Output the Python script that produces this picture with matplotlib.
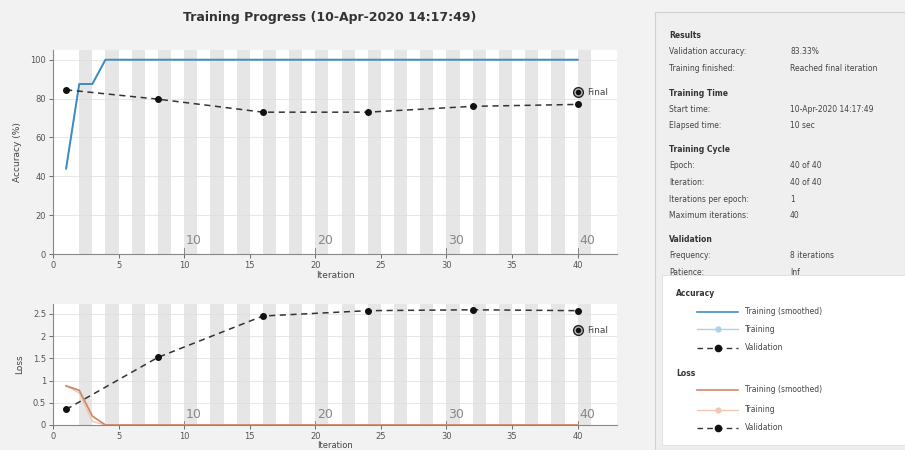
import matplotlib
matplotlib.use("Agg")
import matplotlib.pyplot as plt
from matplotlib.patches import Rectangle
from matplotlib.lines import Line2D
import numpy as np

plt.rcParams['font.family'] = ['DejaVu Sans']

# ---------------- data ----------------
iterations = list(range(1, 41))
train_acc_smooth = [44, 87.5, 87.5, 100] + [100] * 36
train_acc_raw = [44, 87.5, 87.5, 100] + [100] * 36
val_iters = [1, 8, 16, 24, 32, 40]
val_acc = [84.5, 79.7, 73, 73, 76, 77]
final_acc = 83.33

train_loss_smooth = [0.88, 0.78, 0.2, 0.0] + [0.0] * 36
train_loss_raw = [0.88, 0.72, 0.08, 0.0] + [0.0] * 36
val_loss = [0.35, 1.52, 2.45, 2.57, 2.59, 2.57]
final_loss = 2.13

epoch_labels = [10, 20, 30, 40]
acc_ticks = [0, 20, 40, 60, 80, 100]
loss_ticks = [0, 0.5, 1, 1.5, 2, 2.5]
loss_ticklabels = ['0', '0.5', '1', '1.5', '2', '2.5']
iter_ticks = [0, 5, 10, 15, 20, 25, 30, 35, 40]

title = "Training Progress (10-Apr-2020 14:17:49)"
info_sections = [
    ("Results", [("Validation accuracy:", "83.33%"),
                 ("Training finished:", "Reached final iteration")]),
    ("Training Time", [("Start time:", "10-Apr-2020 14:17:49"),
                       ("Elapsed time:", "10 sec")]),
    ("Training Cycle", [("Epoch:", "40 of 40"),
                        ("Iteration:", "40 of 40"),
                        ("Iterations per epoch:", "1"),
                        ("Maximum iterations:", "40")]),
    ("Validation", [("Frequency:", "8 iterations"),
                    ("Patience:", "Inf")]),
]

# ---------------- figure ----------------
W, H = 905, 450
fig = plt.figure(figsize=(W / 100, H / 100), dpi=100)
fig.patch.set_facecolor('#f2f2f2')

def fx(px):
    return px / W

def fy(py):
    return 1 - py / H

blue = '#3d8cc4'
blue_light = '#a9d3ea'
orange = '#cf8a6e'
orange_light = '#f0c8b4'
stripe = '#e6e6e6'

def setup_axes(ax, ymax):
    ax.set_xlim(0, 43)
    ax.set_ylim(0, ymax)
    for k in range(1, 21):
        ax.axvspan(2 * k, 2 * k + 1, color=stripe, lw=0, zorder=0)
    ax.set_xticks(iter_ticks)
    ax.tick_params(labelsize=6, colors='#555555', length=3, width=0.6, pad=2)
    for s in ['top', 'right']:
        ax.spines[s].set_visible(False)
    for s in ['left', 'bottom']:
        ax.spines[s].set_color('#888888')
        ax.spines[s].set_linewidth(0.8)
    ax.grid(True, axis='y', color='#dddddd', lw=0.5, zorder=0.5)
    ax.set_axisbelow(True)
    # epoch markers
    for e in epoch_labels:
        ax.plot([e, e], [0, ymax * 0.03], color='#888888', lw=0.7, clip_on=False)
        ax.text(e + 0.15, ymax * 0.035, str(e), fontsize=9, color='#888888',
                ha='left', va='bottom')

# top axes
ax1 = fig.add_axes([fx(53), fy(254), fx(564), (254 - 50) / H])
setup_axes(ax1, 105)
ax1.set_yticks(acc_ticks)
ax1.plot(iterations, train_acc_raw, color=blue_light, lw=1.0, zorder=2)
ax1.plot(iterations, train_acc_smooth, color=blue, lw=1.4, zorder=3)
ax1.plot(val_iters, val_acc, color='#333333', ls=(0, (4, 3)), lw=1.1,
         marker='o', ms=4, mfc='#111111', mec='#111111', zorder=4)
ax1.plot([40], [final_acc], marker='o', ms=7, mfc='#bbbbbb', mec='#222222',
         mew=1.0, zorder=5)
ax1.plot([40], [final_acc], marker='o', ms=3, color='#111111', zorder=6)
ax1.text(40.7, final_acc, 'Final', fontsize=6.5, color='#444444', va='center')
ax1.set_xlabel('Iteration', fontsize=6.5, color='#444444', labelpad=1)
ax1.set_ylabel('Accuracy (%)', fontsize=6.5, color='#444444', labelpad=6)

# bottom axes
ax2 = fig.add_axes([fx(53), fy(425), fx(564), (425 - 304) / H])
setup_axes(ax2, 2.72)
ax2.set_yticks(loss_ticks)
ax2.set_yticklabels(loss_ticklabels)
ax2.plot(iterations, train_loss_raw, color=orange_light, lw=1.0, zorder=2)
ax2.plot(iterations, train_loss_smooth, color=orange, lw=1.3, zorder=3)
ax2.plot(val_iters, val_loss, color='#333333', ls=(0, (4, 3)), lw=1.1,
         marker='o', ms=4, mfc='#111111', mec='#111111', zorder=4)
ax2.plot([40], [final_loss], marker='o', ms=7, mfc='#bbbbbb', mec='#222222',
         mew=1.0, zorder=5)
ax2.plot([40], [final_loss], marker='o', ms=3, color='#111111', zorder=6)
ax2.text(40.7, final_loss, 'Final', fontsize=6.5, color='#444444', va='center')
ax2.set_xlabel('Iteration', fontsize=6, color='#444444', labelpad=0)
ax2.set_ylabel('Loss', fontsize=6.5, color='#444444', labelpad=6)

# title
fig.text(fx(330), fy(18), title, fontsize=9, fontweight='bold',
         color='#333333', ha='center', va='center')

# right info panel
fig.patches.append(Rectangle((fx(655), fy(450)), fx(250), fy(12) - fy(450),
                             transform=fig.transFigure, facecolor='#efefef',
                             edgecolor='#d0d0d0', lw=0.8, zorder=0))
y = 36
lx, vx = 669, 790
for head, rows in info_sections:
    fig.text(fx(lx), fy(y), head, fontsize=5.5, fontweight='bold',
             color='#333333', va='center', zorder=1)
    y += 16
    for lab, val in rows:
        fig.text(fx(lx), fy(y), lab, fontsize=5.5, color='#444444',
                 va='center', zorder=1)
        fig.text(fx(vx), fy(y), val, fontsize=5.5, color='#444444',
                 va='center', zorder=1)
        y += 16.5
    y += 8

# legend panel (white, covers the overflow)
leg = Rectangle((fx(662), fy(445)), fx(243), fy(275) - fy(445),
                transform=fig.transFigure, facecolor='white',
                edgecolor='#dddddd', lw=0.6, zorder=5)
fig.patches.append(leg)

def leg_line(py, color, ls='-', marker=None, mfc=None, lw=1.2, ms=4):
    l = Line2D([fx(697), fx(738)], [fy(py), fy(py)], transform=fig.transFigure,
               color=color, ls=ls, lw=lw, zorder=6)
    fig.lines.append(l)
    if marker:
        m = Line2D([fx(717.5)], [fy(py)], transform=fig.transFigure,
                   marker=marker, ms=ms, color=mfc, ls='none', zorder=7)
        fig.lines.append(m)

fig.text(fx(676), fy(294), 'Accuracy', fontsize=5.5, fontweight='bold',
         color='#333333', va='center', zorder=7)
leg_line(312, blue)
fig.text(fx(745), fy(312), 'Training (smoothed)', fontsize=5.5, color='#444444', va='center', zorder=7)
leg_line(329, blue_light, marker='o', mfc=blue_light, lw=1.0, ms=3.5)
fig.text(fx(745), fy(329), 'Training', fontsize=5.5, color='#444444', va='center', zorder=7)
leg_line(348, '#333333', ls=(0, (4, 3)), marker='o', mfc='#111111', lw=1.0, ms=4.5)
fig.text(fx(745), fy(348), 'Validation', fontsize=5.5, color='#444444', va='center', zorder=7)

fig.text(fx(676), fy(373), 'Loss', fontsize=5.5, fontweight='bold',
         color='#333333', va='center', zorder=7)
leg_line(390, orange)
fig.text(fx(745), fy(390), 'Training (smoothed)', fontsize=5.5, color='#444444', va='center', zorder=7)
leg_line(410, orange_light, marker='o', mfc=orange_light, lw=1.0, ms=3.5)
fig.text(fx(745), fy(410), 'Training', fontsize=5.5, color='#444444', va='center', zorder=7)
leg_line(428, '#333333', ls=(0, (4, 3)), marker='o', mfc='#111111', lw=1.0, ms=4.5)
fig.text(fx(745), fy(428), 'Validation', fontsize=5.5, color='#444444', va='center', zorder=7)

fig.savefig('out.png', dpi=100, facecolor=fig.get_facecolor())
